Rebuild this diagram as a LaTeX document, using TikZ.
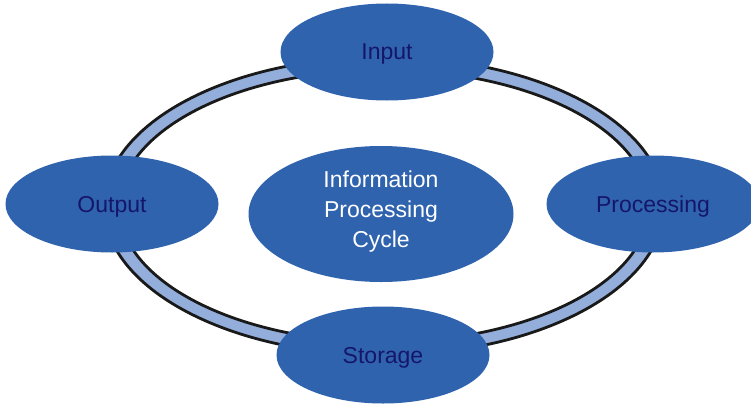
\documentclass[tikz,border=0pt]{standalone}
\usepackage{fontspec}
\setmainfont{Liberation Sans}
\usetikzlibrary{shapes.geometric}
\definecolor{blob}{HTML}{2F63AE}
\definecolor{ringc}{HTML}{94AEDB}
\definecolor{navy}{HTML}{15166A}
\tikzset{
  stage/.style={ellipse, fill=blob, inner sep=0pt, minimum width=213pt, minimum height=97pt,
    text=navy, text depth=0pt, font=\fontsize{23}{28}\selectfont},
  hub/.style={ellipse, fill=blob, inner sep=0pt, minimum width=265pt, minimum height=136pt,
    text=white, align=center, text depth=9pt, font=\fontsize{23}{30}\selectfont},
  ringline/.style={draw=black!90, line width=2.8pt}
}
\begin{document}
\begin{tikzpicture}[x=1pt,y=-1pt]
\useasboundingbox (0,0) rectangle (751,404);
\coordinate (rc) at (384,206);
\fill[ringc, even odd rule] (rc) ellipse [x radius=280, y radius=149]
  (rc) ellipse [x radius=265, y radius=136];
\draw[ringline] (rc) ellipse [x radius=280, y radius=149];
\draw[ringline] (rc) ellipse [x radius=265, y radius=136];
\node[stage] (input) at (387,52) {Input};
\node[stage] (output) at (112,204) {Output};
\node[stage] (proc) at (653,204) {Processing};
\node[stage] (store) at (383,355) {Storage};
\node[hub] (center) at (381,214) {Information\\Processing\\Cycle};
\end{tikzpicture}
\end{document}
